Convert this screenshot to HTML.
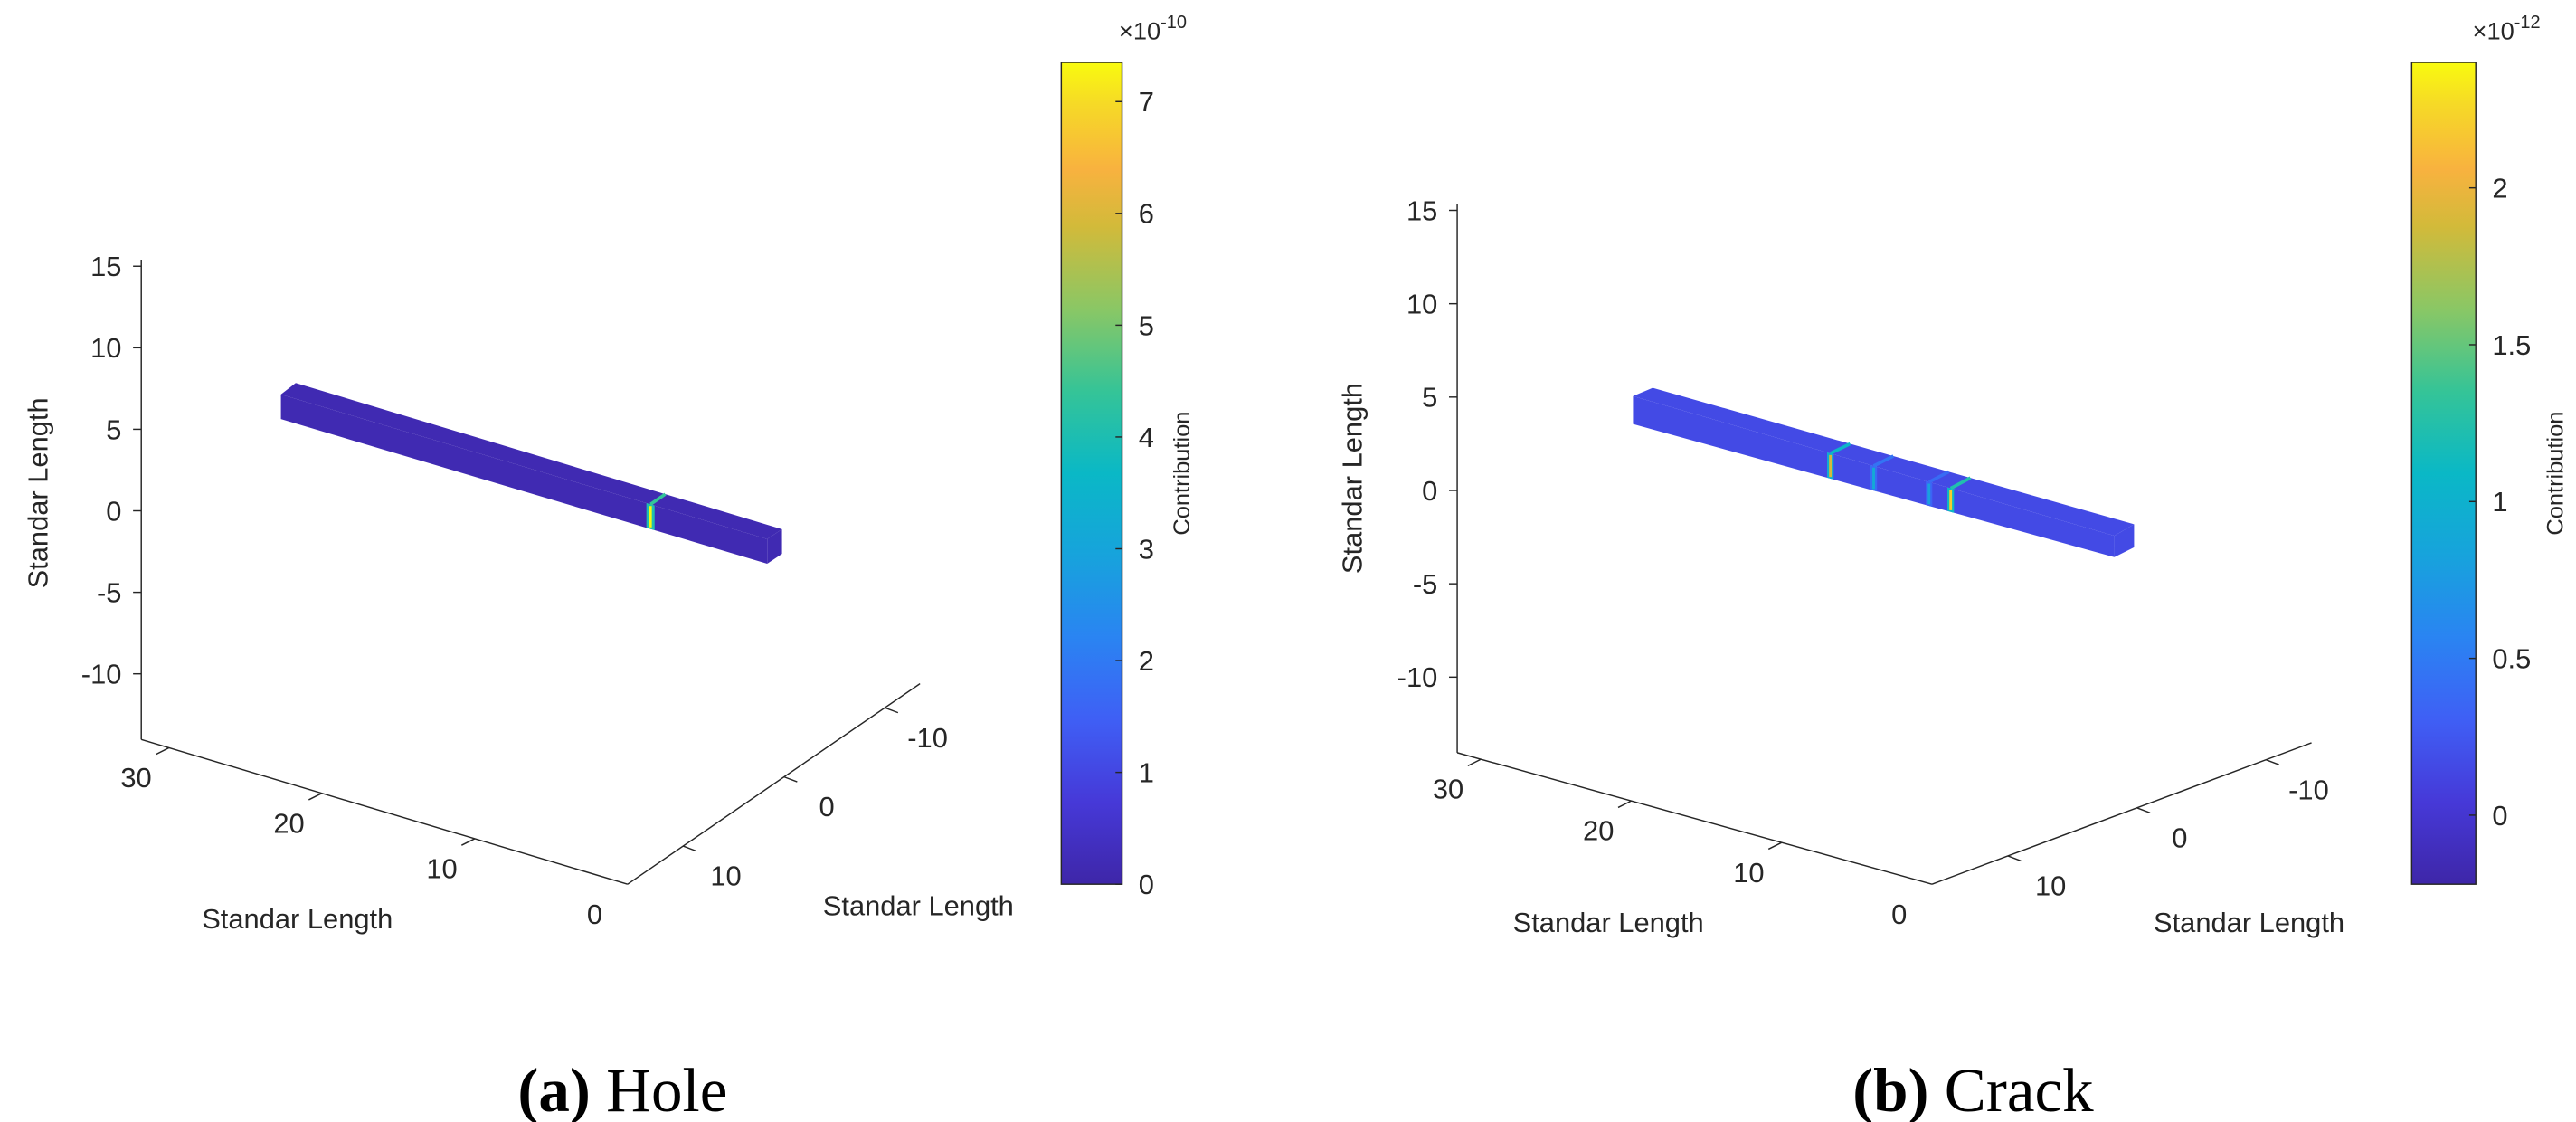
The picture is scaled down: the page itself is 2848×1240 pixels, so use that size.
<!DOCTYPE html>
<html><head><meta charset="utf-8"><style>
html,body{margin:0;padding:0;background:#fff;width:2848px;height:1240px;overflow:hidden}
svg text{font-family:"Liberation Sans",sans-serif;fill:#262626}
</style></head><body>
<svg id="fig" width="2848" height="1240" viewBox="0 0 1568 682.7" xmlns="http://www.w3.org/2000/svg">
<defs>
<linearGradient id="parula" x1="0" y1="1" x2="0" y2="0">
<stop offset="0" stop-color="#3e26a8"/><stop offset="0.1" stop-color="#4639d8"/><stop offset="0.2" stop-color="#3f5ff5"/>
<stop offset="0.3" stop-color="#2a84f2"/><stop offset="0.4" stop-color="#17a3dc"/><stop offset="0.5" stop-color="#0ab8c6"/>
<stop offset="0.6" stop-color="#35c497"/><stop offset="0.7" stop-color="#8ac765"/><stop offset="0.8" stop-color="#d2ba3a"/>
<stop offset="0.87" stop-color="#f8b23f"/><stop offset="0.95" stop-color="#f6da26"/><stop offset="1" stop-color="#f9fb0e"/>
</linearGradient>
</defs>
</svg>
<script>
// Panel (a) data
const holeZTicks = [15, 10, 5, 0, -5, -10];
const holeXTicks = ["30", "20", "10", "0"];
const holeYTicks = ["10", "0", "-10"];
const holeCbTicks = [0, 1, 2, 3, 4, 5, 6, 7];
const holeCbRange = [0, 7.35];
const holeSpikePos = [0.76];
const holeSpikeVal = [7.3];
// Panel (b) data
const crackZTicks = [15, 10, 5, 0, -5, -10];
const crackXTicks = ["30", "20", "10", "0"];
const crackYTicks = ["10", "0", "-10"];
const crackCbTicks = [0, 0.5, 1, 1.5, 2];
const crackCbRange = [-0.22, 2.4];
const crackSpikePos = [0.41, 0.50, 0.615, 0.66];
const crackSpikeVal = [1.9, 0.9, 0.8, 2.2];

const NS = "http://www.w3.org/2000/svg";
const svg = document.getElementById('fig');
function mk(tag, attrs, parent, text){
  const e = document.createElementNS(NS, tag);
  for (const k in attrs) e.setAttribute(k, attrs[k]);
  if (text !== undefined) e.textContent = text;
  (parent || svg).appendChild(e);
  return e;
}
function parula(t){
  const st=[[0,[62,38,168]],[0.1,[70,57,216]],[0.2,[63,95,245]],[0.3,[42,132,242]],[0.4,[23,163,220]],[0.5,[10,184,198]],[0.6,[53,196,151]],[0.7,[138,199,101]],[0.8,[210,186,58]],[0.87,[248,178,63]],[0.95,[246,218,38]],[1,[249,251,14]]];
  t=Math.max(0,Math.min(1,t));
  for(let i=1;i<st.length;i++){ if(t<=st[i][0]){const a=st[i-1],b=st[i];const f=(t-a[0])/(b[0]-a[0]);
    return 'rgb('+a[1].map((v,j)=>Math.round(v+(b[1][j]-v)*f)).join(',')+')';}}
  return 'rgb(249,251,14)';
}

function panel(P){
  const g = mk('g', {});
  
  
  const zY = v => P.z0 + (P.zTop - v) * P.zStep;
  const ax = mk('g', {stroke:'#262626','stroke-width':0.8,fill:'none'}, g);
  
  
  mk('line', {x1:P.ax, y1:P.zAxisTop, x2:P.ax, y2:P.corner[1]}, ax);
  mk('line', {x1:P.ax, y1:P.corner[1], x2:P.mid[0], y2:P.mid[1]}, ax);
  mk('line', {x1:P.mid[0], y1:P.mid[1], x2:P.rend[0], y2:P.rend[1]}, ax);
  P.zTicks.forEach(v=>{
    const y = zY(v);
    mk('line', {x1:P.ax, y1:y, x2:P.ax-5, y2:y}, ax);
    const t = mk('text', {x:P.ax-12, y:y+6, 'text-anchor':'end', 'font-size':17}, g, String(v));
    
    
  });
  P.xTicks.forEach((lab,i)=>{
    const f = P.xFr[0] + i*(P.xFr[1]-P.xFr[0])/(P.xTicks.length-1);
    const px = P.ax + (P.mid[0]-P.ax)*f, py = P.corner[1] + (P.mid[1]-P.corner[1])*f;
    if (f < 0.98) mk('line', {x1:px, y1:py, x2:px-8, y2:py+4}, ax);
    const t = mk('text', {x:px-20, y:py+24, 'text-anchor':'middle', 'font-size':17}, g, lab);
    
    
  });
  P.yTicks.forEach((lab,i)=>{
    const f = P.yFr[0] + i*(P.yFr[1]-P.yFr[0])/(P.yTicks.length-1);
    const px = P.mid[0] + (P.rend[0]-P.mid[0])*f, py = P.mid[1] + (P.rend[1]-P.mid[1])*f;
    mk('line', {x1:px, y1:py, x2:px+8, y2:py+3}, ax);
    const t = mk('text', {x:px+26, y:py+24, 'text-anchor':'middle', 'font-size':17}, g, lab);
    
    
  });
  let t = mk('text', {x:P.xt[0], y:P.xt[1], 'text-anchor':'middle', 'font-size':17}, g, 'Standar Length');
   
  t = mk('text', {x:P.yt[0], y:P.yt[1], 'text-anchor':'middle', 'font-size':17}, g, 'Standar Length');
   
  t = mk('text', {x:0, y:0, 'text-anchor':'middle', 'font-size':17, transform:'translate('+P.zt[0]+','+P.zt[1]+') rotate(-90)'}, g, 'Standar Length');
   
  const B = P.bar;
  const bg = mk('g', {}, g);
  
  
  const base = parula((0 - P.cbRange[0])/(P.cbRange[1]-P.cbRange[0]) + P.baseShift);
  const lerp=(a,b,f)=>[a[0]+(b[0]-a[0])*f, a[1]+(b[1]-a[1])*f];
  mk('polygon', {points:[B.tl,B.tl2,B.rt2,B.rt].map(p=>p.join(',')).join(' '), fill:base}, bg);
  mk('polygon', {points:[B.tl,B.rt,B.rb,B.bl].map(p=>p.join(',')).join(' '), fill:base}, bg);
  mk('polygon', {points:[B.rt,B.rt2,B.rb2,B.rb].map(p=>p.join(',')).join(' '), fill:base}, bg);
  P.spikePos.forEach((f,i)=>{
    const tfr = (P.spikeVal[i]-P.cbRange[0])/(P.cbRange[1]-P.cbRange[0]);
    const a = lerp(B.tl,B.rt,f), b = lerp(B.bl,B.rb,f);
    const w = P.spikeW;
    const s = mk('polygon', {points:[[a[0]-w,a[1]-w*0.3],[a[0]+w,a[1]+w*0.3],[b[0]+w,b[1]+w*0.3],[b[0]-w,b[1]-w*0.3]].map(p=>p.join(',')).join(' '), fill:parula(tfr*0.55)}, bg);
    
    
    const c = mk('line', {x1:a[0],y1:a[1]+1,x2:b[0],y2:b[1]-1, stroke:parula(tfr), 'stroke-width':1.6}, bg);
    
    
    const tp = lerp(B.tl2,B.rt2,f);
    mk('line', {x1:a[0],y1:a[1],x2:tp[0],y2:tp[1], stroke:parula(tfr*0.6), 'stroke-width':2}, bg);
  });
  const cb = mk('rect', {x:P.cb[0], y:P.cb[1], width:P.cb[2], height:P.cb[3], fill:'url(#parula)', stroke:'#262626','stroke-width':0.8}, g);
  
  
  const cbY = v => P.cb[1] + P.cb[3]*(1 - (v-P.cbRange[0])/(P.cbRange[1]-P.cbRange[0]));
  P.cbTicks.forEach(v=>{
    const y = cbY(v);
    mk('line', {x1:P.cb[0]+P.cb[2]-4, y1:y, x2:P.cb[0]+P.cb[2], y2:y, stroke:'#262626','stroke-width':0.8}, g);
    const tt = mk('text', {x:P.cb[0]+P.cb[2]+10, y:y+6, 'font-size':17}, g, String(v));
    
    
  });
  t = mk('text', {x:P.cb[0]+P.cb[2]-2, y:24, 'font-size':15}, g);
   
  mk('tspan', {}, t, '×10');
  mk('tspan', {dy:-7, 'font-size':11}, t, P.exp);
  t = mk('text', {x:0, y:0, 'text-anchor':'middle', 'font-size':14, transform:'translate('+P.ct[0]+','+P.ct[1]+') rotate(-90)'}, g, 'Contribution');
   
  t = mk('text', {x:P.cap[0], y:P.cap[1], 'text-anchor':'middle', 'font-size':38, style:'font-family:"Liberation Serif",serif;fill:#000'}, g);
   
  mk('tspan', {'font-weight':'bold'}, t, P.capB);
  mk('tspan', {}, t, ' ' + P.capT);
}

panel({name:'panel-hole', ax:86, zAxisTop:158, z0:162, zTop:15, zStep:9.92, corner:[86,450], mid:[382,538], rend:[560,416],
  xFr:[0.057,1.0], yFr:[0.19,0.88], zTicks:holeZTicks, xTicks:holeXTicks, yTicks:holeYTicks,
  xt:[181,565], yt:[559,557], zt:[29,300],
  bar:{tl:[171,240], tl2:[180,233], rt:[467,328], rt2:[476,322], rb:[467,343], rb2:[476,337], bl:[171,255]},
  spikePos:holeSpikePos, spikeVal:holeSpikeVal, spikeW:2.5, baseShift:0.02,
  cb:[646,38,37,500], cbRange:holeCbRange, cbTicks:holeCbTicks, exp:'-10', ct:[724,288],
  cap:[379,676], capB:'(a)', capT:'Hole'});
panel({name:'panel-crack', ax:887, zAxisTop:124, z0:128, zTop:15, zStep:11.36, corner:[887,458], mid:[1176,538], rend:[1407,452],
  xFr:[0.05,1.0], yFr:[0.20,0.88], zTicks:crackZTicks, xTicks:crackXTicks, yTicks:crackYTicks,
  xt:[979,567], yt:[1369,567], zt:[829,291],
  bar:{tl:[994,241], tl2:[1006,236], rt:[1287,326], rt2:[1299,319], rb:[1287,339], rb2:[1299,333], bl:[994,258]},
  spikePos:crackSpikePos, spikeVal:crackSpikeVal, spikeW:2, baseShift:0.06,
  cb:[1468,38,39,500], cbRange:crackCbRange, cbTicks:crackCbTicks, exp:'-12', ct:[1560,288],
  cap:[1201,676], capB:'(b)', capT:'Crack'});
</script>
</body></html>
